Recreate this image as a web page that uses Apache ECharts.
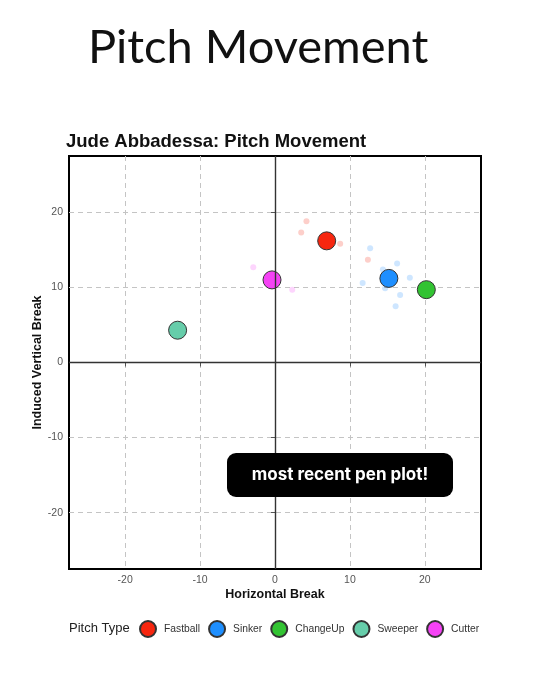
<!DOCTYPE html>
<html>
<head>
<meta charset="utf-8">
<script src="https://cdn.jsdelivr.net/npm/echarts@6/dist/echarts.min.js"></script>
<style>
html,body{margin:0;padding:0;background:#fff;}
#chart{width:547px;height:680px;}
</style>
</head>
<body>
<div id="chart"></div>
<script>
// ---- data ----
const pitchTypes = ['Fastball', 'Sinker', 'ChangeUp', 'Sweeper', 'Cutter'];
const pitchColors = ['#f7260f', '#1e8fff', '#32c332', '#66cdaa', '#f542f5'];
// average movement [horizontal break, induced vertical break]
const avgFastball = [[6.9, 16.2]];
const avgSinker = [[15.2, 11.2]];
const avgChangeUp = [[20.2, 9.7]];
const avgSweeper = [[-13.0, 4.3]];
const avgCutter = [[-0.4, 11.0]];
// individual pitches
const ptsFastball = [[4.2, 18.8], [3.5, 17.3], [8.7, 15.8], [12.4, 13.7]];
const ptsSinker = [[12.7, 15.2], [16.3, 13.2], [14.4, 12.4], [18.0, 11.3], [11.7, 10.6], [14.7, 9.9], [16.7, 9.0], [16.1, 7.5]];
const ptsCutter = [[-2.9, 12.7], [2.3, 9.7]];
const ptsChangeUp = [];
const ptsSweeper = [];
const xTicks = [-20, -10, 0, 10, 20];
const yTicks = [-20, -10, 0, 10, 20];
const axisMin = -27.5, axisMax = 27.5;

const avgData = [avgFastball, avgSinker, avgChangeUp, avgSweeper, avgCutter];
const ptsData = [ptsFastball, ptsSinker, ptsChangeUp, ptsSweeper, ptsCutter];

const chart = echarts.init(document.getElementById('chart'), null, {renderer: 'canvas'});

const series = [];
// zero lines + faint individual pitches
series.push({
  type: 'scatter', name: 'zero', data: [], silent: true, z: 1,
  markLine: {
    silent: true, symbol: 'none', label: {show: false},
    lineStyle: {color: '#333', width: 1.4, type: 'solid'},
    data: [{xAxis: 0}, {yAxis: 0}]
  }
});
pitchTypes.forEach((p, i) => {
  series.push({
    type: 'scatter', name: p + ' pitches', data: ptsData[i], symbolSize: 6, z: 2,
    itemStyle: {color: pitchColors[i], opacity: 0.22}
  });
});
pitchTypes.forEach((p, i) => {
  series.push({
    type: 'scatter', name: p, data: avgData[i], symbolSize: 18, z: 3,
    itemStyle: {color: pitchColors[i], borderColor: '#333', borderWidth: 1, opacity: 1}
  });
});

const axisCommon = {
  type: 'value', min: axisMin, max: axisMax,
  axisLine: {show: false},
  splitLine: {show: true, lineStyle: {color: '#c4c4c4', width: 1, type: [5, 4]}},
  nameLocation: 'middle',
  nameMoveOverlap: false,
  nameTextStyle: {fontFamily: 'Liberation Sans', fontWeight: 'bold', fontSize: 12.5, color: '#111'}
};

chart.setOption({
  animation: false,
  backgroundColor: '#fff',
  title: {
    text: 'Jude Abbadessa: Pitch Movement',
    left: 61, top: 127,
    textStyle: {fontFamily: 'Liberation Sans', fontWeight: 'bold', fontSize: 18.5, color: '#111'}
  },
  grid: {left: 69, right: 66, top: 156, bottom: 111, show: true, borderColor: '#000', borderWidth: 2, backgroundColor: 'transparent'},
  xAxis: Object.assign({}, axisCommon, {
    name: 'Horizontal Break', nameGap: 19,
    axisTick: {show: true, customValues: xTicks, length: 4, lineStyle: {color: '#555'}},
    axisLabel: {customValues: xTicks, margin: 6, fontFamily: 'Liberation Sans', fontSize: 10.5, color: '#555'}
  }),
  yAxis: Object.assign({}, axisCommon, {
    name: 'Induced Vertical Break', nameGap: 25,
    axisTick: {show: true, customValues: yTicks, length: 4, lineStyle: {color: '#555'}},
    axisLabel: {customValues: yTicks, margin: 6, fontFamily: 'Liberation Sans', fontSize: 10.5, color: '#555'}
  }),
  legend: {
    data: pitchTypes,
    left: 134, top: 615,
    icon: 'circle', itemWidth: 16, itemHeight: 16, itemGap: 8,
    textStyle: {fontFamily: 'Liberation Sans', fontSize: 10.3, color: '#333', padding: [0, 0, 0, 3]}
  },
  graphic: [
    {type: 'text', left: 88, top: 24, style: {text: 'Pitch Movement', font: '47px Lato', fill: '#111'}},
    {type: 'text', left: 69, top: 622, style: {text: 'Pitch Type', font: '13px "Liberation Sans"', fill: '#222'}},
    {type: 'rect', shape: {x: 227, y: 453, width: 226, height: 44, r: 9}, style: {fill: '#000'}, z: 100},
    {type: 'text', x: 340, y: 475, z: 101, style: {text: 'most recent pen plot!', font: 'bold 17px Inter', fill: '#fff', textAlign: 'center', textVerticalAlign: 'middle'}}
  ],
  series: series
});
</script>
</body>
</html>
